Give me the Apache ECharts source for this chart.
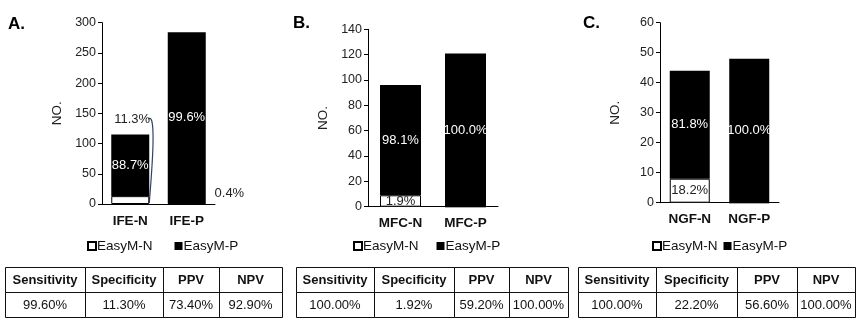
<!DOCTYPE html>
<html>
<head>
<meta charset="utf-8">
<script src="https://cdn.jsdelivr.net/npm/echarts@6/dist/echarts.min.js"></script>
<style>
html,body{margin:0;padding:0;background:#fff;}
#c{width:865px;height:327px;}
</style>
</head>
<body>
<div id="c"></div>
<script>
// ---- data ----
const seriesNames = ['EasyM-N', 'EasyM-P'];
const panelLetters = ['A.', 'B.', 'C.'];

const catsA = ['IFE-N', 'IFE-P'];
const negA = [13, 1];
const posA = [102, 283];
const negLblA = ['11.3%', '0.4%'];
const posLblA = ['88.7%', '99.6%'];

const catsB = ['MFC-N', 'MFC-P'];
const negB = [9, 0];
const posB = [87, 121];
const negLblB = ['1.9%', ''];
const posLblB = ['98.1%', '100.0%'];

const catsC = ['NGF-N', 'NGF-P'];
const negC = [8, 0];
const posC = [36, 48];
const negLblC = ['18.2%', ''];
const posLblC = ['81.8%', '100.0%'];

const yMaxes = [300, 140, 60];
const yIntervals = [50, 20, 10];

const tableHeaders = ['Sensitivity', 'Specificity', 'PPV', 'NPV'];
const tableA = ['99.60%', '11.30%', '73.40%', '92.90%'];
const tableB = ['100.00%', '1.92%', '59.20%', '100.00%'];
const tableC = ['100.00%', '22.20%', '56.60%', '100.00%'];

// ---- layout ----
const FONT = '"Liberation Sans", Arial, sans-serif';
const grids = [
  {left: 102, top: 22.7, width: 113, height: 181.3},
  {left: 368, top: 29.3, width: 130, height: 177.4},
  {left: 660, top: 22.7, width: 119, height: 180}
];
const barWidths = [38, 41, 40];
const legendLefts = [82, 348, 647];
const legendGaps = [22, 18, 6];
const letterPos = [[8, 26], [293, 25], [583, 25]];
const tableCols = [
  [5, 85, 163, 219, 282],
  [296, 374, 454, 509, 568],
  [578, 656, 737, 797, 855]
];
const tableRows = [267, 292, 317];

const cats = [catsA, catsB, catsC];
const negs = [negA, negB, negC];
const poss = [posA, posB, posC];
const negLbls = [negLblA, negLblB, negLblC];
const posLbls = [posLblA, posLblB, posLblC];
const tables = [tableA, tableB, tableC];

const chart = echarts.init(document.getElementById('c'), null, {renderer: 'canvas'});

const xAxes = [], yAxes = [], series = [], legends = [];
for (let i = 0; i < 3; i++) {
  xAxes.push({
    type: 'category', gridIndex: i, data: cats[i],
    axisLine: {lineStyle: {color: '#000', width: 1}},
    axisTick: {show: false},
    axisLabel: {fontFamily: FONT, fontWeight: 'bold', fontSize: 13.5, color: '#111', margin: 10}
  });
  yAxes.push({
    type: 'value', gridIndex: i, min: 0, max: yMaxes[i], interval: yIntervals[i],
    name: 'NO.', nameLocation: 'middle', nameGap: 38,
    nameTextStyle: {fontFamily: FONT, fontSize: 13.5, color: '#222'},
    axisLine: {show: true, lineStyle: {color: '#000', width: 1}},
    axisTick: {show: true, length: 4, lineStyle: {color: '#000'}},
    splitLine: {show: false},
    axisLabel: {fontFamily: FONT, fontSize: 12.5, color: '#222', margin: 6}
  });
  const negData = negs[i].map((v, k) => {
    const item = {value: v};
    if (i === 0 && k === 0) item.label = {position: [3, -77], align: 'left', verticalAlign: 'middle'};
    if (i === 0 && k === 1) item.label = {position: [47, -10], align: 'left', verticalAlign: 'middle'};
    return item;
  });
  const nl = negLbls[i], pl = posLbls[i];
  series.push({
    name: seriesNames[0], type: 'bar', xAxisIndex: i, yAxisIndex: i, stack: 's' + i,
    barWidth: barWidths[i],
    itemStyle: {color: '#fff', borderColor: '#000', borderWidth: 1},
    label: {show: true, position: 'inside', color: '#222', fontFamily: FONT, fontSize: 13,
      formatter: p => nl[p.dataIndex]},
    data: negData
  });
  series.push({
    name: seriesNames[1], type: 'bar', xAxisIndex: i, yAxisIndex: i, stack: 's' + i,
    barWidth: barWidths[i],
    itemStyle: {color: '#000'},
    label: {show: true, position: 'inside', color: '#fff', fontFamily: FONT, fontSize: 13,
      formatter: p => pl[p.dataIndex]},
    data: poss[i]
  });
  legends.push({
    left: legendLefts[i], top: 234, orient: 'horizontal',
    data: seriesNames, icon: 'rect', itemWidth: 8, itemHeight: 8, itemGap: legendGaps[i],
    selectedMode: false,
    textStyle: {fontFamily: FONT, fontSize: 13.5, color: '#111', padding: [0, 0, 0, -4]}
  });
}

chart.setOption({
  animation: false,
  backgroundColor: '#fff',
  grid: grids,
  xAxis: xAxes,
  yAxis: yAxes,
  legend: legends,
  series: series
});

// ---- graphic: letters, tables, connector ----
const g = [];
panelLetters.forEach((t, i) => {
  g.push({type: 'text', left: letterPos[i][0], top: letterPos[i][1] - 10,
    style: {text: t, font: 'bold 17px ' + FONT, fill: '#000'}});
});
tables.forEach((vals, i) => {
  const cols = tableCols[i];
  for (let c = 0; c < 4; c++) {
    for (let r = 0; r < 2; r++) {
      const x = cols[c], y = tableRows[r], w = cols[c + 1] - cols[c], h = tableRows[r + 1] - tableRows[r];
      g.push({type: 'rect', shape: {x: x + 0.5, y: y + 0.5, width: w, height: h},
        style: {fill: 'none', stroke: '#111', lineWidth: 1}, silent: true});
      g.push({type: 'text', x: x + w / 2, y: y + h / 2 + 0.5,
        style: {text: r === 0 ? tableHeaders[c] : vals[c],
          font: (r === 0 ? 'bold 13px ' : '13px ') + FONT,
          fill: '#111', align: 'center', verticalAlign: 'middle'}, silent: true});
    }
  }
});
// connector curve from IFE-N small segment to its label
const base = chart.convertToPixel({xAxisIndex: 0, yAxisIndex: 0}, [catsA[0], 0]);
const topN = chart.convertToPixel({xAxisIndex: 0, yAxisIndex: 0}, [catsA[0], negA[0]]);
const xr = base[0] + barWidths[0] / 2;
const yEnd = topN[1] - 78;
g.push({type: 'bezierCurve', silent: true,
  shape: {x1: xr, y1: base[1] - 1, cpx1: xr + 2, cpy1: yEnd + 60, cpx2: xr + 8, cpy2: yEnd - 8, x2: xr - 1, y2: yEnd + 1},
  style: {stroke: '#34406a', lineWidth: 1.2, fill: 'none'}});

chart.setOption({graphic: g});
</script>
</body>
</html>
